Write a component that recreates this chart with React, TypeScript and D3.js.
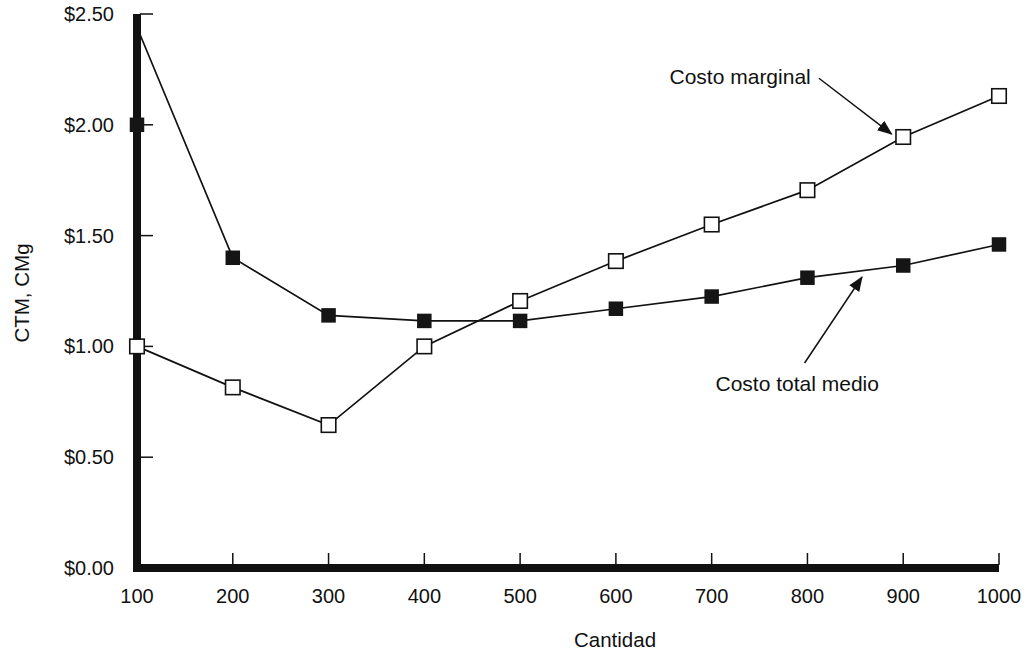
import React from "react";
import * as d3 from "d3";

// Quantity levels on the horizontal axis
const quantities = [100, 200, 300, 400, 500, 600, 700, 800, 900, 1000];
// Average total cost (CTM) at each quantity
const averageTotalCost = [2.0, 1.4, 1.14, 1.115, 1.115, 1.17, 1.225, 1.31, 1.365, 1.46];
// The CTM line is drawn starting near the top of the axis at the first quantity
const averageTotalCostLineStart = 2.44;
// Marginal cost (CMg) at each quantity
const marginalCost = [1.0, 0.815, 0.645, 1.0, 1.205, 1.385, 1.55, 1.705, 1.945, 2.13];
// Axis ticks
const xTicks = [100, 200, 300, 400, 500, 600, 700, 800, 900, 1000];
const yTicks = [0, 0.5, 1.0, 1.5, 2.0, 2.5];
const yTickLabels = ["$0.00", "$0.50", "$1.00", "$1.50", "$2.00", "$2.50"];

// Callouts: label position and arrow tail/tip, in data units
const callouts = [
  { text: "Costo marginal", tx: 656, ty: 2.185, x1: 812, y1: 2.21, x2: 888, y2: 1.958 },
  { text: "Costo total medio", tx: 704, ty: 0.798, x1: 797, y1: 0.925, x2: 857, y2: 1.313 },
];

const W = 1027;
const H = 656;
const FONT = "'Liberation Sans', Arial, Helvetica, sans-serif";

export default function App() {
  const x = d3.scaleLinear().domain([100, 1000]).range([137, 999]);
  const y = d3.scaleLinear().domain([0, 2.5]).range([568, 14]);

  const line = d3
    .line<[number, number]>()
    .x((d) => x(d[0]))
    .y((d) => y(d[1]));

  const atcLinePts: [number, number][] = quantities.map((q, i) => [
    q,
    i === 0 ? averageTotalCostLineStart : averageTotalCost[i],
  ]);
  const mcPts: [number, number][] = quantities.map((q, i) => [q, marginalCost[i]]);

  const sq = 14.5;

  return (
    <svg
      width={W}
      height={H}
      viewBox={`0 0 ${W} ${H}`}
      style={{ position: "absolute", left: 0, top: 0, background: "#fff" }}
    >
      <defs>
        <marker
          id="arrowHead"
          markerUnits="userSpaceOnUse"
          markerWidth={16}
          markerHeight={12}
          refX={14}
          refY={6}
          orient="auto"
        >
          <path d="M0,0 L15,6 L0,12 Z" fill="#111" />
        </marker>
      </defs>

      {/* y tick marks */}
      {yTicks.map((t) => (
        <line key={`yt${t}`} x1={x(100) + 3} x2={x(100) + 16} y1={y(t)} y2={y(t)} stroke="#111" strokeWidth={1.5} />
      ))}
      {/* x tick marks */}
      {xTicks.slice(1).map((t) => (
        <line key={`xt${t}`} x1={x(t)} x2={x(t)} y1={y(0) - 3} y2={y(0) - 15} stroke="#111" strokeWidth={1.5} />
      ))}

      {/* axes */}
      <line x1={x(100)} x2={x(100)} y1={y(2.5)} y2={y(0) + 4} stroke="#111" strokeWidth={8} />
      <line x1={x(100) - 4} x2={x(1000)} y1={y(0)} y2={y(0)} stroke="#111" strokeWidth={8} />

      {/* y tick labels */}
      {yTicks.map((t, i) => (
        <text
          key={`yl${t}`}
          x={114}
          y={y(t) + 7}
          textAnchor="end"
          fontFamily={FONT}
          fontSize={20}
          fill="#111"
        >
          {yTickLabels[i]}
        </text>
      ))}
      {/* x tick labels */}
      {xTicks.map((t) => (
        <text
          key={`xl${t}`}
          x={x(t)}
          y={603}
          textAnchor="middle"
          fontFamily={FONT}
          fontSize={20}
          fill="#111"
        >
          {t}
        </text>
      ))}

      {/* axis titles */}
      <text x={615} y={647} textAnchor="middle" fontFamily={FONT} fontSize={20.5} fill="#111">
        Cantidad
      </text>
      <text
        transform={`translate(29,293) rotate(-90)`}
        textAnchor="middle"
        fontFamily={FONT}
        fontSize={20.5}
        fill="#111"
      >
        CTM, CMg
      </text>

      {/* series lines */}
      <path d={line(atcLinePts) || ""} fill="none" stroke="#111" strokeWidth={1.7} />
      <path d={line(mcPts) || ""} fill="none" stroke="#111" strokeWidth={1.7} />

      {/* average total cost markers (filled) */}
      {quantities.map((q, i) => (
        <rect
          key={`atc${q}`}
          x={x(q) - sq / 2}
          y={y(averageTotalCost[i]) - sq / 2}
          width={sq}
          height={sq}
          fill="#151515"
        />
      ))}
      {/* marginal cost markers (open) */}
      {quantities.map((q, i) => (
        <rect
          key={`mc${q}`}
          x={x(q) - sq / 2}
          y={y(marginalCost[i]) - sq / 2}
          width={sq}
          height={sq}
          fill="#fff"
          stroke="#111"
          strokeWidth={1.6}
        />
      ))}

      {/* callouts */}
      {callouts.map((c) => (
        <g key={c.text}>
          <text x={x(c.tx)} y={y(c.ty)} fontFamily={FONT} fontSize={21} fill="#111">
            {c.text}
          </text>
          <line
            x1={x(c.x1)}
            y1={y(c.y1)}
            x2={x(c.x2)}
            y2={y(c.y2)}
            stroke="#111"
            strokeWidth={1.5}
            markerEnd="url(#arrowHead)"
          />
        </g>
      ))}
    </svg>
  );
}
